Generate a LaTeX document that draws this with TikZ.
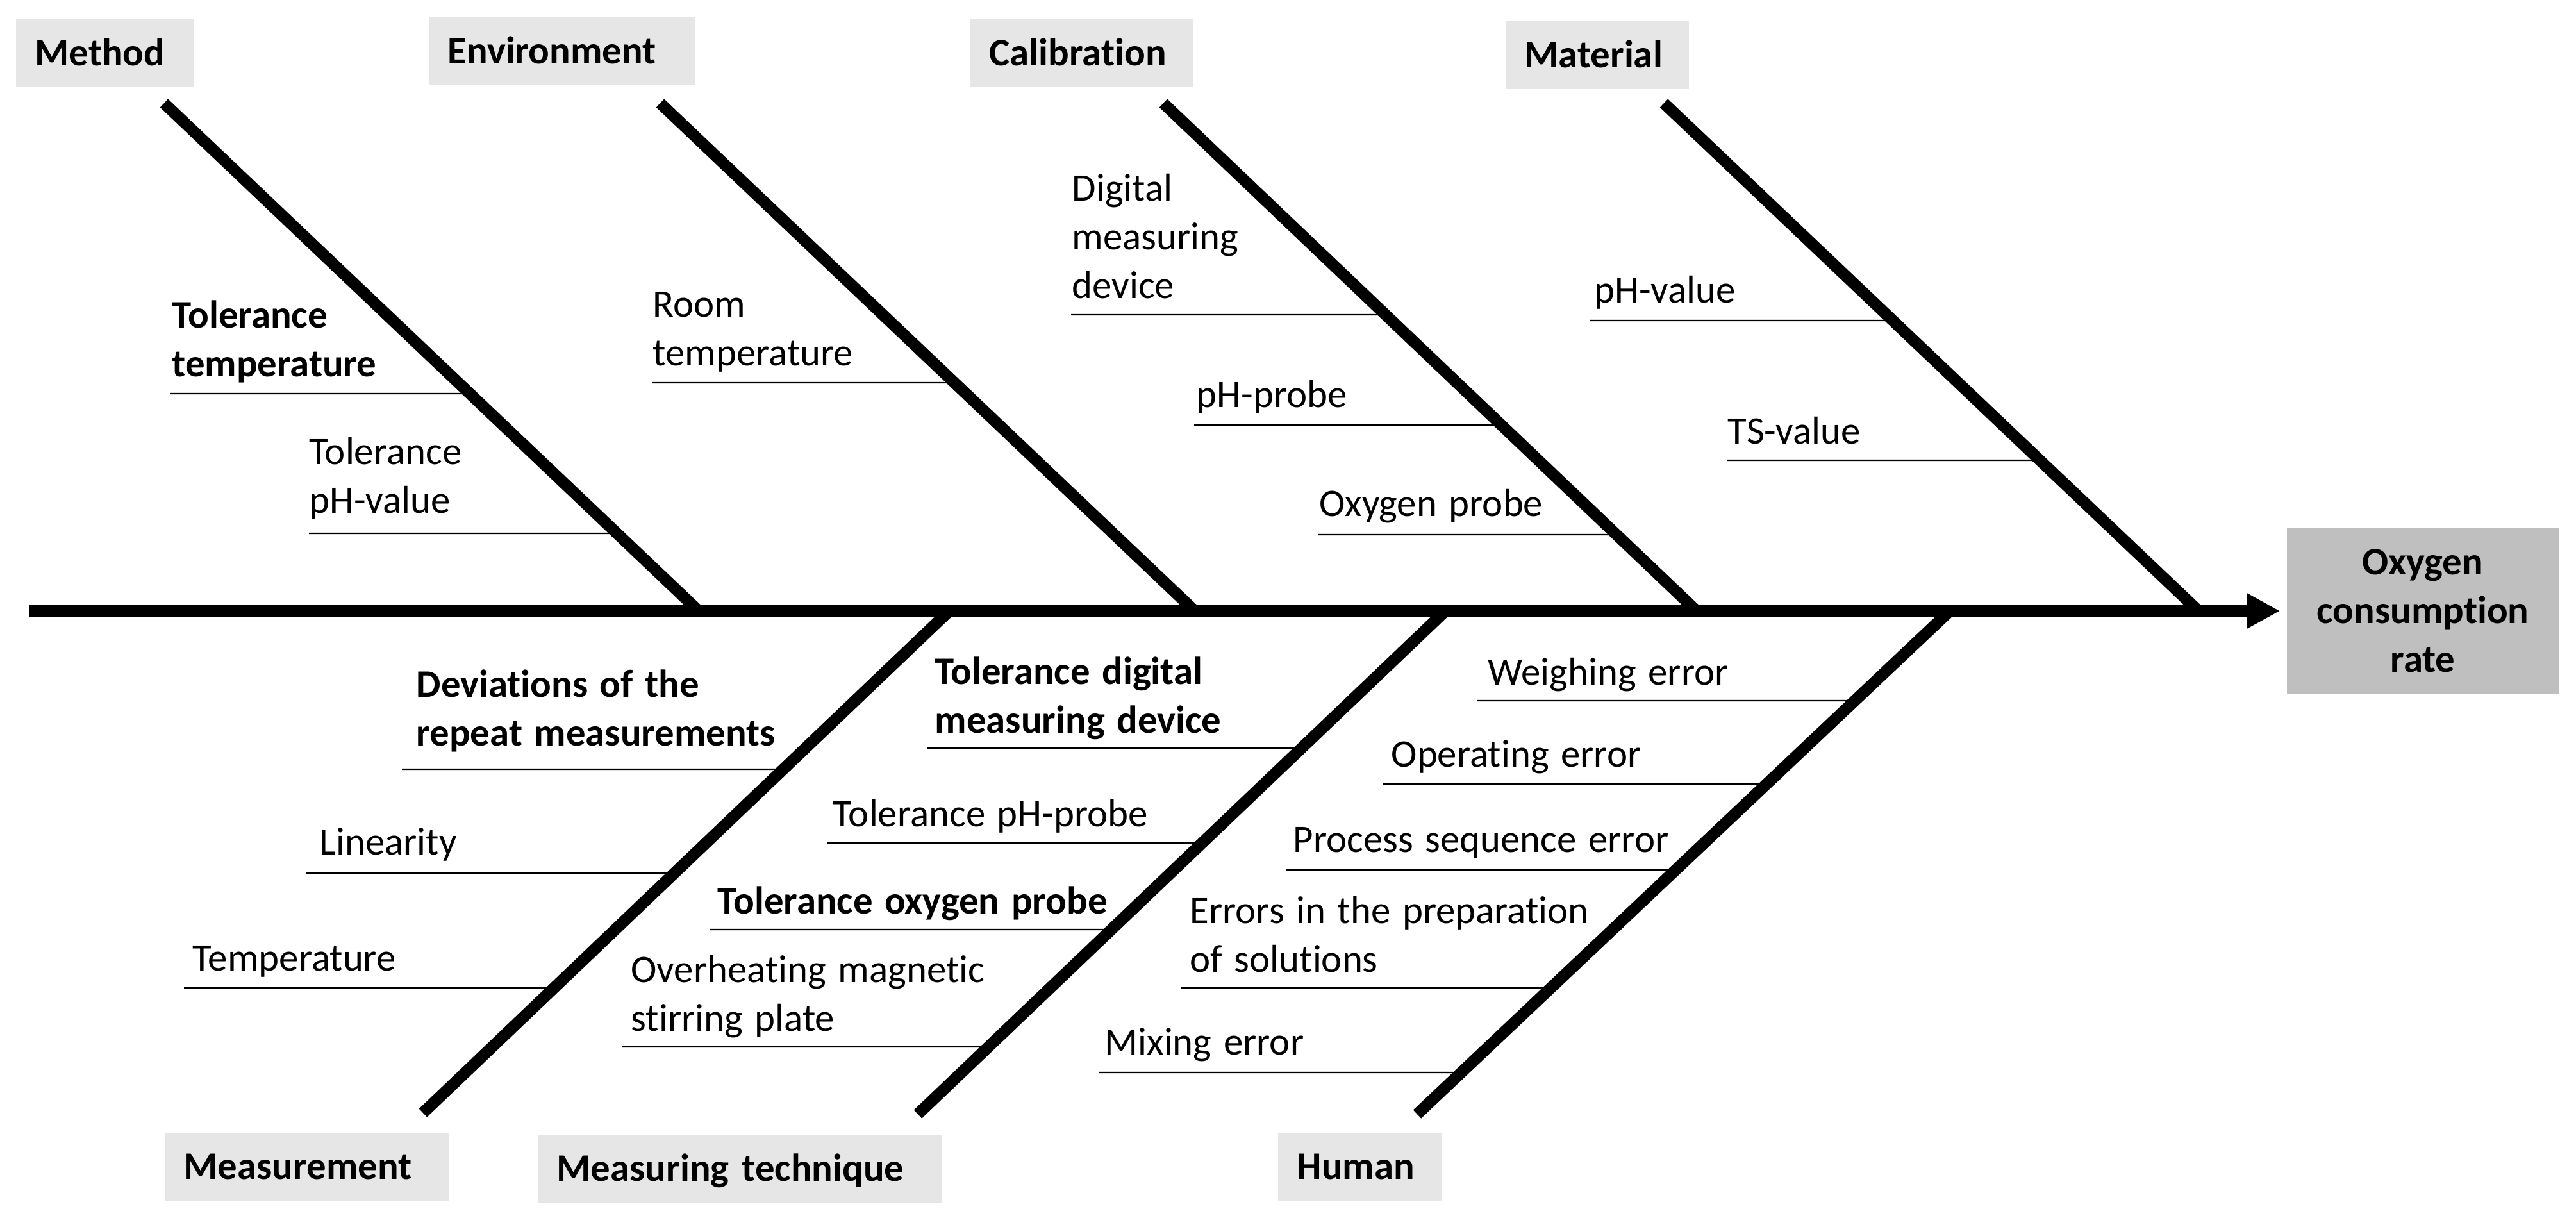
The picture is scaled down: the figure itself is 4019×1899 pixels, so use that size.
\documentclass[tikz,border=0pt]{standalone}
\usepackage{fontspec}
\setmainfont{Carlito}[Ligatures=NoCommon, WordSpace=1.35]
\usetikzlibrary{arrows.meta,calc}
\definecolor{catgray}{RGB}{231,230,230}
\definecolor{effgray}{RGB}{191,191,191}
\newcommand\mlines[1]{\begin{tabular}[b]{@{}l@{}}#1\end{tabular}}
% name, bone, line x, line y, text x, text (last) baseline y, style, text
\newcommand\subcause[8]{%
  \node[cause,#7] (#1) at (#5,#6) {\mlines{#8}};
  \coordinate (#1a) at (#3,#4);
  \coordinate (#1b) at (#3+100,#4);
  \draw[subline] (#1a) -- (intersection of #1a--#1b and #2T--#2B);
}
\begin{document}
\begin{tikzpicture}[x=0.01cm,y=-0.01cm,
  every node/.style={font=\fontsize{17.3}{21.6}\selectfont},
  cause/.style={anchor=base west, inner sep=0pt},
  bcause/.style={font=\fontsize{17.3}{21.6}\selectfont\bfseries},
  catbox/.style={fill=catgray, draw=none, anchor=north west, inner xsep=0.3cm,
    inner ysep=0pt, minimum height=1.06cm, text height=0.40cm, text depth=0cm,
    align=left, font=\fontsize{17.3}{21.6}\selectfont\bfseries},
  effbox/.style={fill=effgray, draw=none, minimum width=4.24cm, minimum height=2.60cm,
    align=center, font=\fontsize{17.3}{21.6}\selectfont\bfseries},
  bone/.style={line width=0.18cm},
  subline/.style={line width=0.024cm},
  spine/.style={line width=0.18cm, -{Triangle[length=0.52cm,width=0.52cm]}}]
\useasboundingbox (0,0) rectangle (4019,1899);

% category boxes
\node[catbox, text width=2.17cm] (method) at (24,29) {Method};
\node[catbox, text width=3.55cm] (env) at (668,26) {Environment};
\node[catbox, text width=2.88cm] (calib) at (1513,29) {Calibration};
\node[catbox, text width=2.26cm] (mat) at (2348,32) {Material};
\node[catbox, text width=3.83cm] (meas) at (256,1766) {Measurement};
\node[catbox, text width=5.71cm] (mtech) at (838,1769) {Measuring technique};
\node[catbox, text width=1.96cm] (human) at (1993,1766) {Human};

% effect
\node[effbox] (eff) at (3780,953) {Oxygen\\consumption\\rate};

% bone end points
\coordinate (MT) at (256,161);  \coordinate (MB) at (1090,953);
\coordinate (ET) at (1030,161); \coordinate (EB) at (1864,953);
\coordinate (CT) at (1815,161); \coordinate (CB) at (2647,953);
\coordinate (AT) at (2596,161); \coordinate (AB) at (3430,953);
\coordinate (ST) at (1481,953); \coordinate (SB) at (660,1736);
\coordinate (QT) at (2255,953); \coordinate (QB) at (1432,1738);
\coordinate (HT) at (3042,953); \coordinate (HB) at (2211,1738);
\coordinate (tail) at (46,953);

% sub-causes
\subcause{tt}{M}{266}{614}{268}{587}{bcause}{Tolerance\\temperature}
\subcause{tp}{M}{482}{832}{482}{800}{}{Tolerance\\pH-value}
\subcause{rt}{E}{1018}{597}{1018}{570}{}{Room\\temperature}
\subcause{dm}{C}{1671}{491}{1672}{465}{}{Digital\\measuring\\device}
\subcause{pp}{C}{1863}{663}{1866}{635}{}{pH-probe}
\subcause{op}{C}{2056}{834}{2058}{805}{}{Oxygen probe}
\subcause{pv}{A}{2481}{500}{2487}{472}{}{pH-value}
\subcause{ts}{A}{2694}{718}{2695}{692}{}{TS-value}
\subcause{dv}{S}{627}{1200}{649}{1163}{bcause}{Deviations of the\\repeat measurements}
\subcause{li}{S}{478}{1362}{498}{1333}{}{Linearity}
\subcause{te}{S}{287}{1541}{300}{1514}{}{Temperature}
\subcause{td}{Q}{1447}{1167}{1458}{1143}{bcause}{Tolerance digital\\measuring device}
\subcause{tph}{Q}{1290}{1315}{1299}{1289}{}{Tolerance pH-probe}
\subcause{to}{Q}{1108}{1450}{1119}{1425}{bcause}{Tolerance oxygen probe}
\subcause{oh}{Q}{971}{1633}{984}{1608}{}{Overheating magnetic\\stirring plate}
\subcause{we}{H}{2304}{1093}{2321}{1068}{}{Weighing error}
\subcause{oe}{H}{2158}{1223}{2170}{1196}{}{Operating error}
\subcause{ps}{H}{2007}{1357}{2017}{1329}{}{Process sequence error}
\subcause{ep}{H}{1843}{1541}{1856}{1516}{}{Errors in the preparation\\of solutions}
\subcause{me}{H}{1715}{1673}{1723}{1645}{}{Mixing error}

% bones
\draw[bone] (MT) -- (MB);
\draw[bone] (ET) -- (EB);
\draw[bone] (CT) -- (CB);
\draw[bone] (AT) -- (AB);
\draw[bone] (ST) -- (SB);
\draw[bone] (QT) -- (QB);
\draw[bone] (HT) -- (HB);

% spine
\draw[spine] (tail) -- ([xshift=-0.1cm]eff.west);
\end{tikzpicture}
\end{document}
